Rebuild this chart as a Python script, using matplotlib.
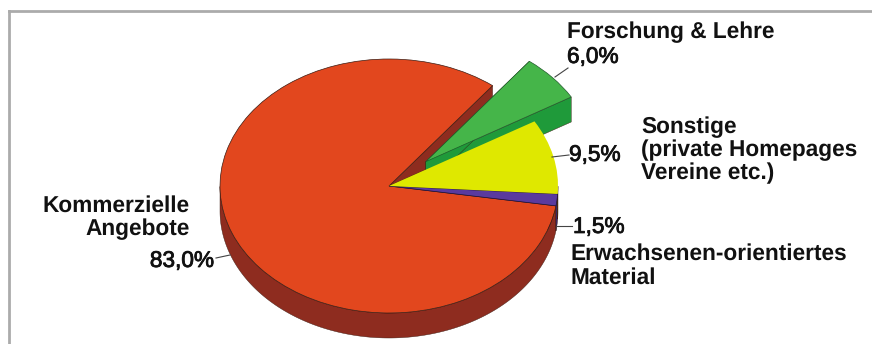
import numpy as np
import matplotlib
matplotlib.use("Agg")
import matplotlib.pyplot as plt
import matplotlib.patheffects as pe
from matplotlib.lines import Line2D
from matplotlib.patches import Polygon

plt.rcParams['font.family'] = ['Liberation Sans', 'DejaVu Sans']
plt.rcParams['text.hinting'] = 'no_hinting'

# shares in percent, counter-clockwise from the top cut of the big slice
names = ['Kommerzielle Angebote', 'Erwachsenen-orientiertes Material', 'Sonstige', 'Forschung & Lehre']
shares = [83.0, 1.5, 9.5, 6.0]
pull_out = [0, 0, 0, 0.29]
top_colors = ['#E2471E', '#5A3A9E', '#DFE800', '#45B549']
side_colors = ['#8E2C1F', '#3B2A70', '#8E9400', '#1F9A3A']
top_edges = ['#3A1A10', '#20103A', 'none', '#1F5A2A']

W, H = 872, 344
CX, CY = 389, 186   # pie centre in pixels
RX, RY = 169, 127   # radii in pixels
DEPTH = 25 / RY

fig = plt.figure(figsize=(W / 100, H / 100), dpi=100)
ax = fig.add_axes([0, 0, 1, 1])

wedges, _ = ax.pie(shares, explode=pull_out, colors=top_colors, startangle=52.2,
                   radius=1, normalize=True,
                   wedgeprops=dict(linewidth=0.5, zorder=5))
for w, e in zip(wedges, top_edges):
    w.set_edgecolor(e)
ax.set_aspect('auto')
ax.set_xlim(-CX / RX, (W - CX) / RX)
ax.set_ylim((CY - H) / RY, CY / RY)
ax.axis('off')


def extrude(wedge, color):
    cx, cy = wedge.center
    r = wedge.r
    # the two radial cut faces
    for ang in (wedge.theta1, wedge.theta2):
        ex = cx + r * np.cos(np.radians(ang))
        ey = cy + r * np.sin(np.radians(ang))
        ax.add_patch(Polygon([(cx, cy), (ex, ey), (ex, ey - DEPTH), (cx, cy - DEPTH)],
                             facecolor=color, edgecolor='#3A1A10', linewidth=0.3, zorder=2))
    # outer rim, only the part facing the viewer
    t = np.radians(np.linspace(wedge.theta1, wedge.theta2, 400))
    t = t[np.sin(t) < 0]
    if len(t) > 1:
        x = cx + r * np.cos(t)
        y = cy + r * np.sin(t)
        pts = np.r_[np.c_[x, y], np.c_[x, y - DEPTH][::-1]]
        ax.add_patch(Polygon(pts, facecolor=color, edgecolor='#3A1A10', linewidth=0.3, zorder=3))


for w, c in zip(wedges, side_colors):
    extrude(w, c)


def label(x, y, s, bold=True, ha='left'):
    t = fig.text(x / W, 1 - y / H, s, fontsize=16.3, ha=ha, va='center', color='#111111',
                 fontweight='bold' if bold else 'normal')
    if not bold:
        # percent values look semi-bold in the source
        t.set_path_effects([pe.withStroke(linewidth=0.6, foreground='#111111')])


def leader(x0, y0, x1, y1):
    fig.add_artist(Line2D([x0 / W, x1 / W], [1 - y0 / H, 1 - y1 / H], color='#444444', linewidth=0.8))


label(567, 32, 'Forschung & Lehre')
label(567, 57, '6,0%', bold=False)
label(641, 127, 'Sonstige')
label(641, 150, '(private Homepages')
label(641, 173, 'Vereine etc.)')
label(569, 155, '9,5%', bold=False)
label(573, 227, '1,5%', bold=False)
label(570, 254, 'Erwachsenen-orientiertes')
label(570, 278, 'Material')
label(190, 206, 'Kommerzielle', ha='right')
label(190, 229, 'Angebote', ha='right')
label(214, 261, '83,0%', bold=False, ha='right')

leader(568, 68, 555, 77)
leader(552, 157, 569, 155)
leader(556, 226, 572, 226)
leader(216, 258, 230, 255)

# grey frame, top and left only
fig.add_artist(Line2D([9 / W, 1], [1 - 11 / H, 1 - 11 / H], color='#ABABAB', linewidth=2))
fig.add_artist(Line2D([9 / W, 9 / W], [1 - 11 / H, 0], color='#ABABAB', linewidth=2))

fig.savefig('out.png', dpi=100)
